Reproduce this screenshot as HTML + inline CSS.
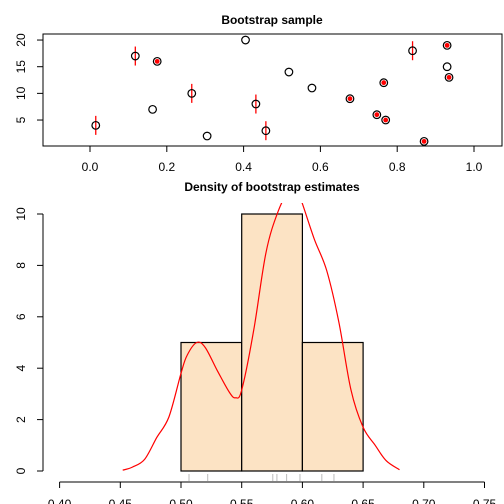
<!DOCTYPE html>
<html><head><meta charset="utf-8"><style>
body{margin:0;background:#fff;}
svg{display:block;font-family:"Liberation Sans",Arial,sans-serif;}
</style></head><body>
<svg id="c" width="504" height="504" viewBox="0 0 504 504">
<defs><clipPath id="cp"><rect x="0" y="203" width="504" height="301"/></clipPath></defs>
<text x="272" y="24" font-size="12" font-weight="bold" text-anchor="middle">Bootstrap sample</text>
<text x="272" y="191" font-size="12" font-weight="bold" text-anchor="middle">Density of bootstrap estimates</text>
<g id="top"></g><g id="bot"></g>
</svg>
<script>
const NS="http://www.w3.org/2000/svg";
const ptX=[0.015,0.118,0.175,0.163,0.265,0.305,0.405,0.432,0.458,0.518,0.578,0.677,0.747,0.765,0.770,0.840,0.870,0.930,0.930,0.935];
const ptY=[4,17,16,7,10,2,20,8,3,14,11,9,6,12,5,18,1,19,15,13];
const ptType=["err","err","fill","open","err","open","open","err","err","open","open","fill","fill","fill","fill","err","fill","fill","open","fill"];
const topXTicks=[0,0.2,0.4,0.6,0.8,1.0];
const topXLabels=["0.0","0.2","0.4","0.6","0.8","1.0"];
const topYTicks=[5,10,15,20];
const binEdges=[0.50,0.55,0.60,0.65];
const binHeights=[5,10,5];
const densX=[0.452,0.46,0.47,0.48,0.49,0.50,0.505,0.513,0.52,0.53,0.54,0.545,0.55,0.56,0.57,0.58,0.59,0.595,0.60,0.61,0.62,0.63,0.64,0.65,0.66,0.669,0.68];
const densY=[0.03,0.15,0.45,1.3,2.1,3.8,4.5,5.0,4.8,3.9,3.05,2.85,3.15,5.5,8.5,10.1,11.0,11.0,10.4,9.0,7.8,5.8,3.15,1.7,1.0,0.4,0.05];
const rugX=[0.5066,0.522,0.5756,0.579,0.587,0.598,0.616,0.626];
const botXTicks=[0.40,0.45,0.50,0.55,0.60,0.65,0.70,0.75];
const botXLabels=["0.40","0.45","0.50","0.55","0.60","0.65","0.70","0.75"];
const botYTicks=[0,2,4,6,8,10];

function el(t,a,p){const e=document.createElementNS(NS,t);for(const k in a)e.setAttribute(k,a[k]);p.appendChild(e);return e;}
const tx=v=>90+v*384, ty=v=>146.7-v*5.333;
const T=document.getElementById('top');
let r=el('rect',{x:43,y:34,width:459,height:112,fill:'none',stroke:'#000'},T);


topXTicks.forEach((v,i)=>{el('line',{x1:tx(v),x2:tx(v),y1:146,y2:152,stroke:'#000'},T);
 const t=el('text',{x:tx(v),y:171,'font-size':12,'text-anchor':'middle'},T);t.textContent=topXLabels[i];
 
 });
topYTicks.forEach(v=>{el('line',{x1:37,x2:43,y1:ty(v),y2:ty(v),stroke:'#000'},T);
 const t=el('text',{x:0,y:0,'font-size':12,'text-anchor':'middle',transform:`translate(25,${ty(v)}) rotate(-90)`},T);t.textContent=v;
 
 });
ptX.forEach((x,i)=>{const cx=tx(x),cy=ty(ptY[i]);
 if(ptType[i]==='err'){const l=el('line',{x1:cx,x2:cx,y1:cy-9.5,y2:cy+9.5,stroke:'#f00','stroke-width':1.3},T);
  
  }
 const c=el('circle',{cx:cx,cy:cy,r:3.8,fill:'none',stroke:'#000','stroke-width':1.2},T);
 
 
 if(ptType[i]==='fill'){el('circle',{cx:cx,cy:cy,r:2.4,fill:'#f00'},T);}
});
const B=document.getElementById('bot');
const bx=v=>181+(v-0.5)*1214, by=v=>471-v*25.7;
el('line',{x1:43,x2:43,y1:by(0),y2:by(10),stroke:'#000'},B);
botYTicks.forEach(v=>{el('line',{x1:37,x2:43,y1:by(v),y2:by(v),stroke:'#000'},B);
 const t=el('text',{x:0,y:0,'font-size':12,'text-anchor':'middle',transform:`translate(25,${by(v)}) rotate(-90)`},B);t.textContent=v;
 
 });
el('line',{x1:bx(0.40),x2:bx(0.75),y1:482,y2:482,stroke:'#000'},B);
botXTicks.forEach((v,i)=>{el('line',{x1:bx(v),x2:bx(v),y1:482,y2:488,stroke:'#000'},B);
 const t=el('text',{x:bx(v),y:508,'font-size':12,'text-anchor':'middle'},B);t.textContent=botXLabels[i];
 
 });
binHeights.forEach((h,i)=>{const x0=bx(binEdges[i]),x1=bx(binEdges[i+1]);
 const b=el('rect',{x:x0,y:by(h),width:x1-x0,height:by(0)-by(h),fill:'#fce3c4',stroke:'#000','stroke-width':1.2},B);
 
 });
rugX.forEach(v=>{const l=el('line',{x1:bx(v),x2:bx(v),y1:474,y2:481,stroke:'#bbb'},B);
 
 });
const P=densX.map((x,i)=>[bx(x),by(densY[i])]);
let d='M'+P[0][0].toFixed(1)+','+P[0][1].toFixed(1);
for(let i=0;i<P.length-1;i++){
 const p0=P[Math.max(0,i-1)],p1=P[i],p2=P[i+1],p3=P[Math.min(P.length-1,i+2)];
 const c1=[p1[0]+(p2[0]-p0[0])/6,p1[1]+(p2[1]-p0[1])/6];
 const c2=[p2[0]-(p3[0]-p1[0])/6,p2[1]-(p3[1]-p1[1])/6];
 d+=` C${c1[0].toFixed(1)},${c1[1].toFixed(1)} ${c2[0].toFixed(1)},${c2[1].toFixed(1)} ${p2[0].toFixed(1)},${p2[1].toFixed(1)}`;
}
const p=el('path',{d:d,fill:'none',stroke:'#f00','stroke-width':1.2,'clip-path':'url(#cp)','stroke-linejoin':'round'},B);


</script>
</body></html>
